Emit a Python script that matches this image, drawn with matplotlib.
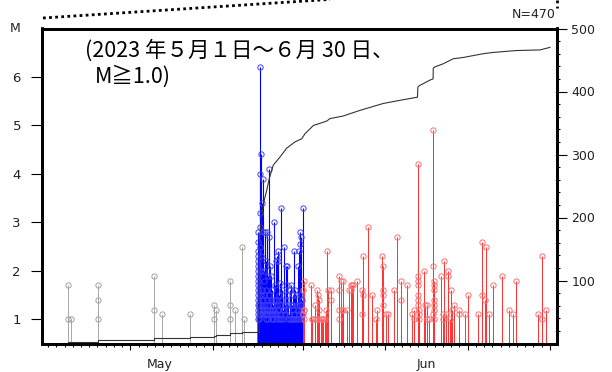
import matplotlib
matplotlib.use("Agg")
import matplotlib.pyplot as plt
import matplotlib.transforms as mtransforms
from matplotlib.lines import Line2D
from matplotlib.ticker import FixedLocator, NullFormatter

# ---------------- data (days since 2023-05-01 00:00, magnitude) ----------------
gray_day = [2.39, 2.39, 2.79, 6.11, 6.11, 6.11, 12.92, 12.92, 13.89, 17.29,
            20.2, 20.2, 20.45, 22.08, 22.08, 22.08, 22.72, 23.57, 23.85]
gray_mag = [1.7, 1.0, 1.0, 1.7, 1.4, 1.0, 1.9, 1.2, 1.1, 1.1,
            1.3, 1.0, 1.2, 1.8, 1.3, 1.0, 1.2, 2.5, 1.0]

blue_day = [25.55] * 17 + [
    25.76, 25.78, 25.84, 25.72, 25.74, 25.80, 25.86, 25.90,
    26.04, 26.10, 26.37, 26.61, 26.14, 26.85, 26.80,
    26.20, 26.30, 26.45, 26.50, 26.70, 26.90, 27.00,
    27.13, 27.20, 27.30, 27.46, 27.46, 27.55,
    27.70, 27.83, 27.83, 27.95, 27.98, 28.05,
    28.19, 28.19, 28.31, 28.40, 28.50,
    28.68, 28.68, 28.87, 28.95, 29.00,
    29.08, 29.08, 29.20, 29.28, 29.40,
    29.49, 29.56, 29.68, 29.75,
    29.89, 29.89, 30.01, 30.10, 30.20,
    30.33, 30.33, 30.46, 30.50,
    30.62, 30.62, 30.62, 30.70, 30.70, 30.80,
    30.94, 30.90,
    25.60, 25.65, 25.70, 25.82, 25.88, 25.92, 25.95, 26.02, 26.06, 26.10,
    26.16, 26.22, 26.26, 26.33, 26.40, 26.43, 26.55, 26.58, 26.65, 26.75,
    26.78, 26.95, 27.05, 27.08, 27.16, 27.25, 27.35, 27.40, 27.50, 27.60,
    27.65, 27.75, 27.88, 28.00, 28.10, 28.25, 28.35, 28.45, 28.60, 28.75,
    28.80, 29.12, 29.35, 29.60, 29.80, 29.95, 30.15, 30.40, 30.55, 30.75,
    30.85]
blue_mag = [2.8, 2.6, 2.4, 2.3, 2.2, 2.1, 2.0, 1.9, 1.8, 1.7, 1.6, 1.5, 1.4,
            1.3, 1.2, 1.1, 1.0] + [
    6.2, 4.0, 4.4, 3.2, 2.9, 2.5, 2.3, 2.0,
    3.4, 3.9, 2.8, 2.8, 2.8, 4.1, 2.7,
    2.0, 1.8, 2.2, 1.6, 1.9, 1.5, 2.1,
    1.9, 1.6, 1.3, 3.0, 1.4, 1.7,
    2.2, 2.3, 1.3, 2.4, 2.2, 1.5,
    1.75, 1.1, 3.3, 1.6, 1.2,
    2.5, 1.2, 2.1, 1.4, 1.7,
    2.1, 1.5, 1.3, 1.1, 1.6,
    1.3, 1.7, 1.3, 1.5,
    2.4, 1.1, 1.6, 1.5, 1.3,
    2.1, 1.2, 2.4, 1.1,
    2.8, 2.55, 1.5, 2.7, 1.3, 1.2,
    3.3, 1.4,
    1.0, 1.3, 1.1, 1.2, 1.5, 1.1, 1.3, 1.2, 1.6, 1.1,
    1.4, 1.2, 1.5, 1.1, 1.3, 1.0, 1.2, 1.4, 1.1, 1.3,
    1.0, 1.2, 1.1, 1.4, 1.0, 1.2, 1.1, 1.0, 1.2, 1.1,
    1.0, 1.4, 1.1, 1.2, 1.0, 1.3, 1.0, 1.4, 1.0, 1.1,
    1.3, 1.0, 1.0, 1.0, 1.2, 1.0, 1.0, 1.0, 1.3, 1.0,
    1.1]

red_day = [31.02, 31.02, 31.06, 31.14, 31.14, 31.10,
           31.99, 32.04, 32.11, 32.44, 32.44, 32.65, 32.65, 32.84, 32.84, 32.93, 32.93,
           33.17, 33.25, 33.45, 33.65, 33.74, 33.86, 33.99, 34.39, 34.35,
           35.32, 35.32, 35.35, 35.32, 35.56, 35.81, 35.70, 35.85, 36.29,
           36.61, 36.78, 36.90, 37.02, 36.85, 37.58,
           38.19, 38.25, 38.31, 38.20, 38.88, 39.33, 39.94, 39.90,
           40.58, 40.74, 40.74, 40.70, 40.74, 41.07, 41.35,
           42.04, 42.44, 42.86, 42.90, 43.62, 44.19, 44.47, 44.50,
           44.92, 44.92, 44.95, 44.95, 44.98, 45.00, 45.02, 45.04, 45.06, 45.10,
           45.69, 45.84, 46.10, 46.10, 46.30,
           46.82, 46.82, 46.85, 46.85, 46.87, 46.87, 46.90, 46.90, 46.78, 46.90,
           47.75, 47.96, 47.96, 48.12, 48.36, 48.64, 48.64, 48.97, 48.90,
           49.05, 49.37, 49.94, 49.90, 50.67, 51.07,
           52.21, 52.77, 52.77, 53.18, 53.15, 53.55, 54.07, 55.13,
           56.01, 56.54, 56.90, 59.57, 59.99, 59.99, 60.47]
red_mag = [1.6, 1.1, 1.2, 1.8, 1.2, 1.0,
           1.7, 1.0, 1.0, 1.3, 1.0, 1.6, 1.0, 1.5, 1.0, 1.4, 1.2,
           1.0, 1.0, 1.0, 1.0, 1.2, 2.4, 1.6, 1.6, 1.4,
           1.9, 1.6, 1.2, 1.0, 1.8, 1.8, 1.2, 1.2, 1.2,
           1.6, 1.7, 1.7, 1.7, 1.6, 1.8,
           1.6, 1.5, 2.3, 1.1, 2.9, 1.5, 1.2, 1.0,
           2.3, 2.1, 1.6, 1.5, 1.3, 1.1, 1.1,
           1.6, 2.7, 1.8, 1.4, 1.7, 1.1, 1.2, 1.0,
           4.2, 1.9, 1.8, 1.7, 1.5, 1.4, 1.3, 1.2, 1.1, 1.0,
           2.0, 1.3, 1.3, 1.0, 1.0,
           4.9, 2.1, 1.8, 1.7, 1.6, 1.4, 1.3, 1.2, 1.1, 1.0,
           1.9, 1.1, 1.0, 2.2, 1.1, 2.0, 1.9, 1.6, 1.0,
           1.2, 1.3, 1.2, 1.1, 1.1, 1.5,
           1.1, 2.6, 1.5, 2.5, 1.4, 1.1, 1.7, 1.9,
           1.2, 1.1, 1.8, 1.1, 2.3, 1.0, 1.2]

# cumulative number of events (right axis)
cum_day = [2.39, 2.79, 6.11, 12.92, 13.89, 17.29, 20.2, 20.45, 22.08, 22.72,
           23.57, 23.85, 25.66, 25.68, 25.76, 25.96, 26.16, 26.57, 26.89, 27.37,
           28.19, 29.0, 30.01, 30.83, 31.23, 32.24, 33.86, 34.26, 35.84, 37.9,
           40.74, 42.77, 44.9, 44.95, 45.1, 46.4, 46.8, 46.82, 47.0, 48.03,
           49.25, 50.46, 52.9, 54.1, 56.9, 59.8, 61.0]
cum_count = [2, 3, 6, 8, 9, 10, 12, 13, 16, 17,
             18, 19, 19, 149, 175, 200, 221, 243, 262, 283,
             296, 310, 320, 325, 333, 346, 353, 357, 361, 370,
             381, 386, 391, 407, 409, 418, 420, 437, 439, 444,
             452, 454, 460, 462, 465, 466, 470]
n_step_part = 13   # the early, sparse part is drawn as steps

m_ticks = [1, 2, 3, 4, 5, 6]
n_ticks = [100, 200, 300, 400, 500]
month_labels = ["May", "Jun"]
month_label_pos = [13.6, 46.0]
tick_days = [10, 20, 31, 41, 51, 61]
long_tick_days = [31, 61]

title_1 = "(2023 年５月１日～６月 30 日、"
title_2 = "M≧1.0)"
n_text = "N=470"

# ---------------- figure ----------------
W, H = 612, 372
fig = plt.figure(figsize=(W / 100, H / 100), dpi=100)
ax = fig.add_axes([41.5 / W, 1 - 343.5 / H, 515 / W, 315 / H])
ax.set_xlim(-0.8, 61.8)
ax.set_ylim(0.5, 7.0)

def stems(days, mags, color, mcolor, lw):
    ax.vlines(days, 0.5, mags, colors=color, lw=lw, zorder=2)
    ax.plot(days, mags, "o", ms=3.8, mfc="none", mec=mcolor, mew=0.7, zorder=3)

stems(gray_day, gray_mag, "#a8a8a8", "#a0a0a0", 0.7)
stems(blue_day, blue_mag, "#0000ff", "#4040ff", 0.8)
stems(red_day, red_mag, "#ff3030", "#ff7070", 0.7)

ax2 = ax.twinx()
ax2.set_ylim(0, 500)
ax2.plot(cum_day[:n_step_part], cum_count[:n_step_part], drawstyle="steps-post",
         color="#333333", lw=0.8, zorder=4)
ax2.plot(cum_day[n_step_part - 1:], cum_count[n_step_part - 1:],
         color="#333333", lw=0.8, zorder=4)

for a in (ax, ax2):
    for s in a.spines.values():
        s.set_linewidth(2.0)
        s.set_color("black")

lab_col = "#222222"
ax.set_yticks(m_ticks)
ax.tick_params(axis="y", direction="out", length=7.8, width=0.8, pad=7,
               labelsize=9.5, labelcolor=lab_col, right=False)
ax.set_xticks(tick_days)
ax.xaxis.set_major_formatter(NullFormatter())
ax.xaxis.set_minor_locator(FixedLocator(list(range(0, 62))))
ax.tick_params(axis="x", which="major", direction="out", length=4.3, width=0.8, top=False)
ax.tick_params(axis="x", which="minor", direction="out", length=2.4, width=0.8, top=False)
for t in ax.xaxis.get_major_ticks():
    if t.get_loc() in long_tick_days:
        t.tick1line.set_markersize(10)

ax2.set_yticks(n_ticks)
ax2.yaxis.set_minor_locator(FixedLocator(list(range(20, 500, 20))))
ax2.tick_params(axis="y", which="major", direction="out", length=7.2, width=0.8,
                pad=3.5, labelsize=9, labelcolor=lab_col)
ax2.tick_params(axis="y", which="minor", direction="out", length=2.5, width=0.8)

trans = mtransforms.blended_transform_factory(ax.transData, ax.transAxes)
for lab, pos in zip(month_labels, month_label_pos):
    ax.text(pos, -0.066, lab, transform=trans, ha="center", va="center",
            fontsize=9, color=lab_col, clip_on=False)

fig.text(15 / W, 1 - 29 / H, "M", ha="center", va="center", fontsize=9, color=lab_col)
fig.text(556 / W, 1 - 15 / H, n_text, ha="right", va="center", fontsize=9, color=lab_col)

jp = ["Noto Sans CJK JP", "DejaVu Sans"]
fig.text(85 / W, 1 - 51 / H, title_1, ha="left", va="center", fontsize=15.5, family=jp)
fig.text(95 / W, 1 - 77 / H, title_2, ha="left", va="center", fontsize=15.5, family=jp)

# dotted connector lines from the surrounding figure
fig.add_artist(Line2D([43 / W, 330 / W], [1 - 18 / H, 1 + 0.6 / H], transform=fig.transFigure,
                      color="black", lw=2, ls=(0, (1, 1.2))))
fig.add_artist(Line2D([557 / W, 557 / W], [1, 1 - 8 / H], transform=fig.transFigure,
                      color="black", lw=2, ls=(0, (1, 1.2))))

fig.savefig("out.png", dpi=100)
